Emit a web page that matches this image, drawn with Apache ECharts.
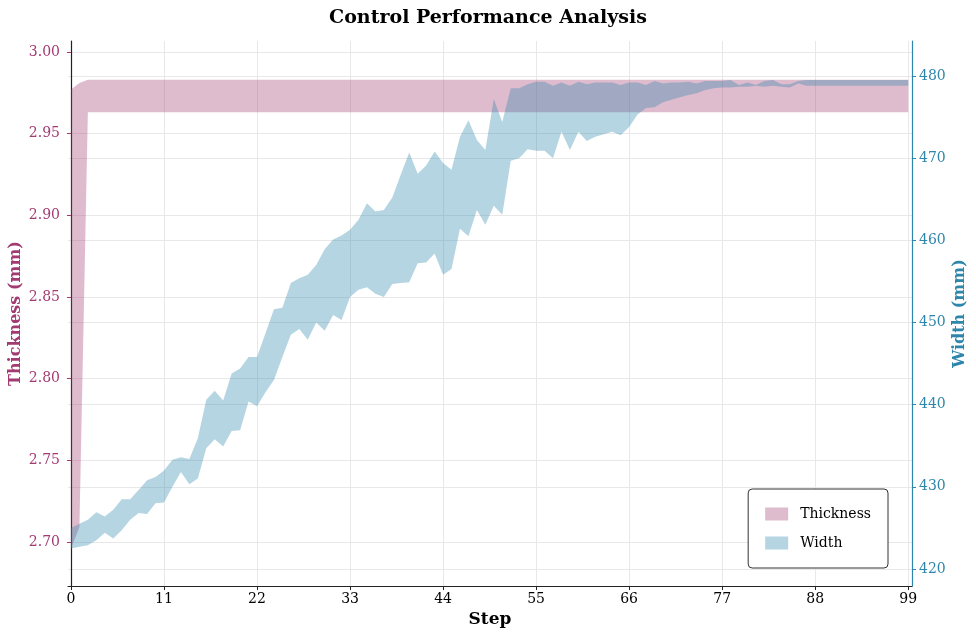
<!DOCTYPE html>
<html>
<head>
<meta charset="utf-8">
<script src="https://cdn.jsdelivr.net/npm/echarts@6/dist/echarts.min.js"></script>
<style>
  html, body { margin: 0; padding: 0; background: #ffffff; }
  #chart { width: 976px; height: 636px; }
</style>
</head>
<body>
<div id="chart"></div>
<script>
const steps = [0,1,2,3,4,5,6,7,8,9,10,11,12,13,14,15,16,17,18,19,20,21,22,23,24,25,26,27,28,29,30,31,32,33,34,35,36,37,38,39,40,41,42,43,44,45,46,47,48,49,50,51,52,53,54,55,56,57,58,59,60,61,62,63,64,65,66,67,68,69,70,71,72,73,74,75,76,77,78,79,80,81,82,83,84,85,86,87,88,89,90,91,92,93,94,95,96,97,98,99];

const thicknessLower = [2.696,2.709,2.963,2.963,2.963,2.963,2.963,2.963,2.963,2.963,2.963,2.963,2.963,2.963,2.963,2.963,2.963,2.963,2.963,2.963,2.963,2.963,2.963,2.963,2.963,2.963,2.963,2.963,2.963,2.963,2.963,2.963,2.963,2.963,2.963,2.963,2.963,2.963,2.963,2.963,2.963,2.963,2.963,2.963,2.963,2.963,2.963,2.963,2.963,2.963,2.963,2.963,2.963,2.963,2.963,2.963,2.963,2.963,2.963,2.963,2.963,2.963,2.963,2.963,2.963,2.963,2.963,2.963,2.963,2.963,2.963,2.963,2.963,2.963,2.963,2.963,2.963,2.963,2.963,2.963,2.963,2.963,2.963,2.963,2.963,2.963,2.963,2.963,2.963,2.963,2.963,2.963,2.963,2.963,2.963,2.963,2.963,2.963,2.963,2.963];
const thicknessUpper = [2.977,2.981,2.983,2.983,2.983,2.983,2.983,2.983,2.983,2.983,2.983,2.983,2.983,2.983,2.983,2.983,2.983,2.983,2.983,2.983,2.983,2.983,2.983,2.983,2.983,2.983,2.983,2.983,2.983,2.983,2.983,2.983,2.983,2.983,2.983,2.983,2.983,2.983,2.983,2.983,2.983,2.983,2.983,2.983,2.983,2.983,2.983,2.983,2.983,2.983,2.983,2.983,2.983,2.983,2.983,2.983,2.983,2.983,2.983,2.983,2.983,2.983,2.983,2.983,2.983,2.983,2.983,2.983,2.983,2.983,2.983,2.983,2.983,2.983,2.983,2.983,2.983,2.983,2.983,2.983,2.983,2.983,2.983,2.983,2.983,2.983,2.983,2.983,2.983,2.983,2.983,2.983,2.983,2.983,2.983,2.983,2.983,2.983,2.983,2.983];

const widthLower = [422.5,422.7,422.9,423.5,424.4,423.7,424.7,426.0,426.8,426.7,428.0,428.1,430.0,431.8,430.3,431.0,434.7,435.8,434.9,436.8,436.9,440.4,439.8,441.5,443.0,445.8,448.5,449.2,447.9,450.0,449.0,450.9,450.3,453.1,454.0,454.3,453.5,453.1,454.7,454.8,454.9,457.2,457.3,458.4,455.8,456.5,461.4,460.5,463.7,461.9,464.2,463.1,469.7,470.0,471.1,470.9,470.9,470.0,473.2,471.0,473.2,472.1,472.6,472.9,473.2,472.8,473.8,475.3,476.1,476.2,476.8,477.1,477.4,477.7,477.9,478.3,478.5,478.6,478.6,478.7,478.7,478.8,478.7,478.8,478.7,478.6,479.1,478.8,478.8,478.8,478.8,478.8,478.8,478.8,478.8,478.8,478.8,478.8,478.8,478.8];
const widthUpper = [425.0,425.5,426.0,426.9,426.4,427.2,428.5,428.5,429.6,430.8,431.2,432.0,433.3,433.6,433.4,435.9,440.6,441.7,440.5,443.8,444.4,445.8,445.8,448.7,451.6,451.8,454.8,455.4,455.8,457.0,458.9,460.1,460.6,461.3,462.5,464.5,463.5,463.7,465.2,468.0,470.7,468.1,469.1,470.8,469.4,468.6,472.6,474.6,472.2,471.0,477.2,474.4,478.5,478.5,479.0,479.3,479.3,478.8,479.2,478.8,479.3,479.0,479.2,479.2,479.2,478.9,479.2,479.2,478.9,479.4,479.1,479.2,479.2,479.3,479.1,479.4,479.4,479.4,479.5,478.9,479.2,478.9,479.4,479.5,479.0,479.0,479.4,479.5,479.5,479.5,479.5,479.5,479.5,479.5,479.5,479.5,479.5,479.5,479.5,479.5];

const xTicks = [0,11,22,33,44,55,66,77,88,99];
const thicknessTicks = [2.70,2.75,2.80,2.85,2.90,2.95,3.00];
const widthTicks = [420,430,440,450,460,470,480];

const PINK = '#A23B72';
const BLUE = '#2E86AB';
const PINK_FILL = 'rgba(162,59,114,0.35)';
const BLUE_FILL = 'rgba(46,134,171,0.35)';
const FONT = '"DejaVu Serif", serif';
const GRID_COLOR = '#e8e8e8';

function bandData(lower, upper) {
  return steps.map((s, i) => [s, lower[i], upper[i]]);
}

function bandRenderer(fill) {
  return function (params, api) {
    if (params.dataIndexInside !== 0) return null;
    const n = params.dataInsideLength;
    const top = [], bottom = [];
    for (let j = 0; j < n; j++) {
      const x = api.value(0, j);
      top.push(api.coord([x, api.value(2, j)]));
      bottom.push(api.coord([x, api.value(1, j)]));
    }
    return {
      type: 'polygon',
      shape: { points: top.concat(bottom.reverse()) },
      style: { fill: fill, stroke: null }
    };
  };
}

const chart = echarts.init(document.getElementById('chart'), null, { renderer: 'canvas' });

chart.setOption({
  animation: false,
  backgroundColor: '#ffffff',
  textStyle: { fontFamily: FONT },
  title: {
    text: 'Control Performance Analysis',
    left: 'center',
    top: 4,
    textStyle: { fontFamily: FONT, fontSize: 19, fontWeight: 'bold', color: '#000' }
  },
  legend: {
    right: 88,
    top: 489,
    orient: 'vertical',
    data: [
      { name: 'Thickness', itemStyle: { color: PINK_FILL } },
      { name: 'Width', itemStyle: { color: BLUE_FILL } }
    ],
    icon: 'rect',
    itemWidth: 23,
    itemHeight: 13,
    itemGap: 13,
    padding: [17, 17, 17, 17],
    backgroundColor: '#ffffff',
    borderColor: '#333333',
    borderWidth: 1,
    borderRadius: 4,
    textStyle: { fontFamily: FONT, fontSize: 14, color: '#000', lineHeight: 16, padding: [0, 0, 0, 7] }
  },
  grid: { left: 68, right: 64, top: 41, bottom: 50, containLabel: false, outerBoundsMode: 'none' },
  xAxis: {
    type: 'value',
    min: -0.35,
    max: 99.45,
    name: 'Step',
    nameLocation: 'middle',
    nameGap: 25,
    nameMoveOverlap: false,
    nameTextStyle: { fontFamily: FONT, fontSize: 17, fontWeight: 'bold', color: '#000' },
    axisLine: { show: true, lineStyle: { color: '#222', width: 1.2 } },
    axisTick: { show: true, customValues: xTicks, length: 4, lineStyle: { color: '#222' } },
    axisLabel: { customValues: xTicks, fontFamily: FONT, fontSize: 14, color: '#000', margin: 6 },
    splitLine: { show: true, lineStyle: { color: GRID_COLOR, width: 1 } }
  },
  yAxis: [
    {
      type: 'value',
      position: 'left',
      min: 2.673,
      max: 3.0067,
      name: 'Thickness (mm)',
      nameLocation: 'middle',
      nameRotate: 90,
      nameGap: 44,
      nameMoveOverlap: false,
      nameTextStyle: { fontFamily: FONT, fontSize: 16, fontWeight: 'bold', color: PINK },
      axisLine: { show: true, lineStyle: { color: '#222', width: 1.2 } },
      axisTick: { show: true, customValues: thicknessTicks, length: 4, lineStyle: { color: PINK } },
      axisLabel: {
        customValues: thicknessTicks,
        formatter: v => v.toFixed(2),
        fontFamily: FONT, fontSize: 14, color: PINK, margin: 8
      },
      splitLine: { show: true, lineStyle: { color: GRID_COLOR, width: 1 } }
    },
    {
      type: 'value',
      position: 'right',
      min: 417.93,
      max: 484.26,
      name: 'Width (mm)',
      nameLocation: 'middle',
      nameRotate: 90,
      nameGap: 40,
      nameMoveOverlap: false,
      nameTextStyle: { fontFamily: FONT, fontSize: 16, fontWeight: 'bold', color: BLUE },
      axisLine: { show: true, lineStyle: { color: BLUE, width: 1.2 } },
      axisTick: { show: true, customValues: widthTicks, length: 4, lineStyle: { color: BLUE } },
      axisLabel: {
        customValues: widthTicks,
        formatter: v => String(Math.round(v)),
        fontFamily: FONT, fontSize: 14, color: BLUE, margin: 7
      },
      splitLine: { show: true, lineStyle: { color: GRID_COLOR, width: 1 } }
    }
  ],
  series: [
    {
      name: 'Thickness',
      type: 'custom',
      xAxisIndex: 0,
      yAxisIndex: 0,
      itemStyle: { color: PINK_FILL },
      encode: { x: 0, y: [1, 2] },
      data: bandData(thicknessLower, thicknessUpper),
      renderItem: bandRenderer(PINK_FILL),
      silent: true,
      z: 2
    },
    {
      name: 'Width',
      type: 'custom',
      xAxisIndex: 0,
      yAxisIndex: 1,
      itemStyle: { color: BLUE_FILL },
      encode: { x: 0, y: [1, 2] },
      data: bandData(widthLower, widthUpper),
      renderItem: bandRenderer(BLUE_FILL),
      silent: true,
      z: 3
    }
  ]
});
</script>
</body>
</html>
